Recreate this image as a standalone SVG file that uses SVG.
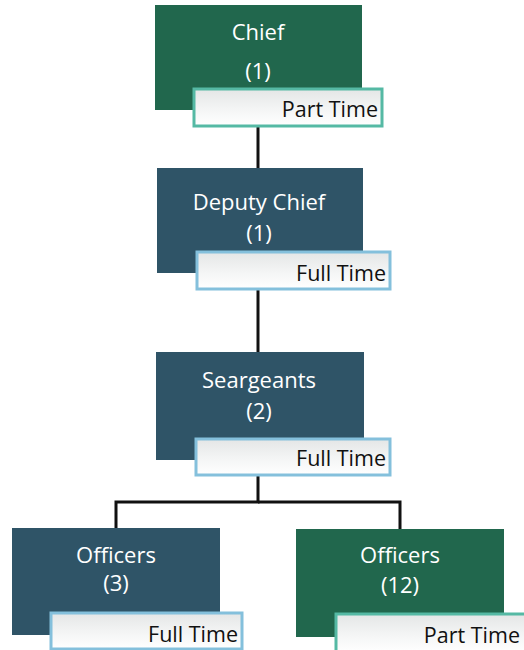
<svg xmlns="http://www.w3.org/2000/svg" width="524" height="650" viewBox="0 0 524 650">
<defs>
<linearGradient id="lbl" x1="0" y1="0" x2="0" y2="1">
<stop offset="0" stop-color="#e4e6e6"/>
<stop offset="0.55" stop-color="#f4f5f5"/>
<stop offset="1" stop-color="#ffffff"/>
</linearGradient>
</defs>
<style>
.green{fill:#21674d}
.blue{fill:#2f5467}
.lg{fill:url(#lbl);stroke:#55b9a4;stroke-width:3}
.lb{fill:url(#lbl);stroke:#84c0dc;stroke-width:3}
.t{font-family:"Open Sans","Liberation Sans",sans-serif;font-size:22px;fill:#ffffff;text-anchor:middle}
.l{font-family:"Open Sans","Liberation Sans",sans-serif;font-size:21.5px;fill:#111111;text-anchor:end}
.c{fill:none;stroke:#111111;stroke-width:3}
</style>
<rect width="524" height="650" fill="#ffffff"/>
<g id="connectors">
<line class="c" x1="258" y1="127" x2="258" y2="168"/>
<line class="c" x1="258" y1="290" x2="258" y2="352"/>
<polyline class="c" points="258,476 258,502 116,502 116,528"/>
<polyline class="c" points="258,502 400,502 400,529"/>
</g>
<g id="chief">
<rect class="green" x="155" y="5" width="207" height="105"/>
<text class="t" x="258" y="40">Chief</text>
<text class="t" x="258" y="79">(1)</text>
<rect class="lg" x="194" y="89" width="188" height="37"/>
<text class="l" x="378" y="117">Part Time</text>
</g>
<g id="deputy">
<rect class="blue" x="157" y="168" width="206" height="105"/>
<text class="t" x="259" y="210">Deputy Chief</text>
<text class="t" x="259" y="241">(1)</text>
<rect class="lb" x="197" y="252" width="193" height="37"/>
<text class="l" x="386" y="281">Full Time</text>
</g>
<g id="sergeants">
<rect class="blue" x="156" y="352" width="208" height="108"/>
<text class="t" x="259" y="388">Seargeants</text>
<text class="t" x="259" y="419">(2)</text>
<rect class="lb" x="196" y="439" width="194" height="36"/>
<text class="l" x="386" y="466">Full Time</text>
</g>
<g id="officers3">
<rect class="blue" x="12" y="528" width="208" height="107"/>
<text class="t" x="116" y="563">Officers</text>
<text class="t" x="116" y="591">(3)</text>
<rect class="lb" x="51" y="613" width="191" height="36"/>
<text class="l" x="238" y="642">Full Time</text>
</g>
<g id="officers12">
<rect class="green" x="296" y="529" width="208" height="108"/>
<text class="t" x="400" y="563">Officers</text>
<text class="t" x="400" y="593">(12)</text>
<rect class="lg" x="336" y="614" width="192" height="38"/>
<text class="l" x="520" y="643">Part Time</text>
</g>
</svg>
